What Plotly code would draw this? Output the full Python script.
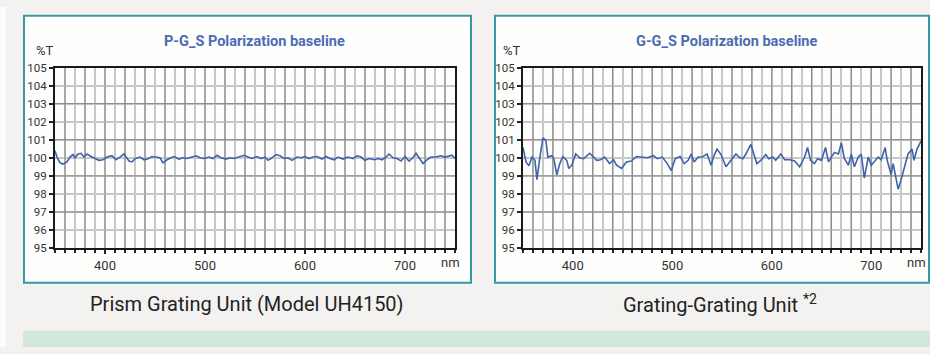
import plotly.graph_objects as go

# ---------------- data ----------------
pg_nm = [350, 352, 355, 358, 362, 365, 368, 370, 373, 376, 379, 382, 386, 390, 394, 398,
         402, 407, 411, 415, 419, 424, 427, 430, 435, 439, 443, 447, 450, 455, 458, 462,
         466, 469, 474, 478, 482, 487, 491, 495, 499, 504, 508, 512, 516, 521, 525, 529,
         534, 539, 543, 547, 552, 556, 560, 563, 566, 571, 575, 579, 583, 587, 592, 596,
         600, 604, 608, 612, 617, 621, 625, 629, 633, 638, 643, 648, 652, 656, 660, 664,
         669, 673, 677, 681, 684, 688, 692, 696, 700, 704, 708, 711, 714, 718, 722, 726,
         731, 736, 740, 743, 747, 750]
pg_t = [100.39, 100.04, 99.72, 99.65, 99.77, 100.04, 100.18, 100.00, 100.21, 100.25, 100.04,
        100.21, 100.07, 99.95, 99.86, 99.89, 100.04, 100.12, 99.89, 100.04, 100.21, 99.82,
        99.77, 99.95, 100.04, 99.89, 99.95, 100.07, 100.04, 100.00, 99.72, 99.89, 100.00,
        100.07, 99.93, 100.00, 99.96, 100.04, 100.11, 100.00, 99.96, 100.04, 99.96, 100.14,
        100.00, 99.93, 100.00, 99.96, 100.04, 100.14, 100.04, 99.96, 100.07, 99.96, 100.04,
        99.86, 99.96, 100.18, 100.11, 99.96, 100.00, 99.86, 100.04, 100.00, 100.07, 99.96,
        100.04, 100.07, 99.93, 100.07, 99.96, 99.89, 100.04, 99.93, 100.04, 99.96, 100.11,
        100.04, 99.86, 99.96, 99.89, 99.96, 99.89, 100.04, 100.21, 100.00, 99.96, 99.82,
        100.07, 99.82, 100.00, 100.25, 100.00, 99.68, 99.89, 100.04, 100.04, 100.11, 100.04,
        100.07, 100.14, 99.96]

gg_nm = [350, 353, 356, 359, 362, 364, 367, 370, 373, 375, 379, 381, 384, 387, 390, 394,
         396, 399, 403, 407, 411, 417, 421, 424, 428, 432, 437, 441, 444, 449, 454, 459,
         464, 470, 475, 481, 485, 490, 495, 499, 503, 508, 512, 516, 519, 522, 526, 530,
         535, 539, 542, 545, 549, 554, 559, 564, 567, 571, 574, 579, 582, 585, 589, 594,
         597, 601, 604, 609, 613, 618, 623, 628, 633, 636, 639, 643, 646, 650, 654, 657,
         660, 663, 667, 670, 673, 677, 680, 683, 687, 690, 693, 697, 700, 704, 707, 710,
         714, 716, 720, 722, 724, 727, 730, 734, 737, 741, 743, 746, 749, 750]
gg_t = [100.57, 99.77, 99.56, 100.04, 99.86, 98.79, 100.04, 101.10, 100.96, 100.04, 100.12,
        99.95, 99.06, 99.68, 100.07, 99.86, 99.41, 99.59, 100.21, 100.00, 99.95, 100.25,
        100.04, 99.86, 99.89, 100.04, 99.68, 99.89, 99.59, 99.41, 99.77, 99.82, 100.07,
        100.04, 100.00, 100.12, 99.95, 100.04, 99.68, 99.29, 99.95, 100.07, 99.68, 99.86,
        100.21, 99.77, 100.04, 100.04, 100.21, 99.59, 100.12, 100.48, 100.18, 99.50, 99.86,
        100.21, 100.04, 99.95, 100.21, 100.74, 100.21, 99.68, 99.86, 100.18, 99.95, 100.04,
        99.86, 100.21, 99.89, 99.89, 99.82, 99.50, 100.04, 100.57, 99.86, 99.68, 99.95,
        99.86, 100.57, 99.77, 100.04, 100.30, 100.21, 100.83, 99.95, 99.59, 100.21, 99.50,
        100.04, 100.21, 98.88, 100.04, 99.59, 99.86, 100.04, 99.89, 100.57, 99.86, 99.06,
        99.68, 99.15, 98.26, 98.79, 99.68, 100.21, 100.48, 99.86, 100.48, 100.83, 100.92]

titles = ["P-G_S Polarization baseline", "G-G_S Polarization baseline"]
captions = ["Prism Grating Unit (Model UH4150)", "Grating-Grating Unit <sup>*2</sup>"]
y_ticks = [95, 96, 97, 98, 99, 100, 101, 102, 103, 104, 105]
x_ticks = [400, 500, 600, 700]
x_dark_grid = list(range(360, 750, 20))
y_dark_grid = [97, 99, 101, 103]

# ---------------- styling ----------------
W, H = 930, 354
FONT = "Roboto, Liberation Sans, sans-serif"
LINE_BLUE = "#3f62ad"
TITLE_BLUE = "#4a6cb3"
TEAL = "#3a98a6"
LIGHT_GRID = "#c8c8c8"
DARK_GRID = "#888888"
X_RANGE = [350, 750]
Y_RANGE = [95, 105]

def px(x):
    return x / W

def py(y):
    return 1 - y / H

panels = [
    dict(box=(24, 9, 471, 287), plot=(55, 63, 455, 251), title_x=255, cap_x=247, pct_x=45),
    dict(box=(495, 9, 929, 287), plot=(523, 63, 921, 251), title_x=726, cap_x=720, pct_x=512),
]

fig = go.Figure()
series = [(pg_nm, pg_t), (gg_nm, gg_t)]

shapes = []
annotations = []

def note(text, x, y, size, color, weight=None):
    f = dict(family=FONT, size=size, color=color)
    if weight:
        f["weight"] = weight
    annotations.append(dict(text=text, xref="paper", yref="paper", x=px(x), y=py(y),
                            xanchor="center", yanchor="middle", showarrow=False, font=f))

# background decorations
shapes.append(dict(type="rect", xref="paper", yref="paper", x0=0, x1=px(6), y0=0, y1=1,
                   fillcolor="#fbfbfa", line_width=0, layer="below"))
shapes.append(dict(type="rect", xref="paper", yref="paper", x0=px(23), x1=1, y0=0, y1=py(337),
                   fillcolor="#d3e7dd", line_width=0, layer="below"))

for i, (p, (xs, ys)) in enumerate(zip(panels, series)):
    n = "" if i == 0 else str(i + 1)
    xa, ya = "x" + n, "y" + n
    fig.add_trace(go.Scatter(x=xs, y=ys, mode="lines", xaxis=xa, yaxis=ya,
                             line=dict(color=LINE_BLUE, width=1.6), hoverinfo="skip",
                             showlegend=False))
    bx0, by0, bx1, by1 = p["box"]
    shapes.append(dict(type="rect", xref="paper", yref="paper",
                       x0=px(bx0), x1=px(bx1), y0=py(by1), y1=py(by0),
                       fillcolor="#fefefc", line=dict(color=TEAL, width=2), layer="below"))
    for v in x_dark_grid:
        shapes.append(dict(type="line", xref=xa, yref=ya, x0=v, x1=v,
                           y0=Y_RANGE[0], y1=Y_RANGE[1],
                           line=dict(color=DARK_GRID, width=1), layer="between"))
    for v in y_dark_grid:
        shapes.append(dict(type="line", xref=xa, yref=ya, x0=X_RANGE[0], x1=X_RANGE[1],
                           y0=v, y1=v,
                           line=dict(color=DARK_GRID, width=1), layer="between"))
    qx0, qy0, qx1, qy1 = p["plot"]
    axx = dict(domain=[px(qx0), px(qx1)], range=X_RANGE, anchor=ya,
               tickmode="array", tickvals=x_ticks, ticks="outside", ticklen=4,
               tickcolor="#222", tickwidth=1.5, showgrid=False, zeroline=False,
               showline=True, linecolor="#1a1a1a", linewidth=2, mirror=True,
               tickfont=dict(family=FONT, size=13, color="#333"),
               minor=dict(dtick=10, tick0=350, ticks="outside", ticklen=3, tickcolor="#222",
                          showgrid=True, gridcolor=LIGHT_GRID, gridwidth=2),
               fixedrange=True)
    axy = dict(domain=[py(qy1), py(qy0)], range=Y_RANGE, anchor=xa,
               tickmode="array", tickvals=y_ticks, ticks="outside", ticklen=4,
               tickcolor="#222", tickwidth=1.5, showgrid=True, gridcolor=LIGHT_GRID,
               gridwidth=2, zeroline=False, showline=True, linecolor="#1a1a1a",
               linewidth=2, mirror=True,
               tickfont=dict(family=FONT, size=11.5, color="#333"), fixedrange=True)
    fig.update_layout(**{"xaxis" + n: axx, "yaxis" + n: axy})

    note(titles[i], p["title_x"], 36, 14.5, TITLE_BLUE, weight=700)
    note(captions[i], p["cap_x"], 309, 20, "#222")
    note("%T", p["pct_x"], 45, 13, "#333")
    note("nm", qx1 - 5, 266, 13, "#333")

fig.update_layout(width=W, height=H, margin=dict(l=0, r=0, t=0, b=0),
                  paper_bgcolor="#f3f2f0", plot_bgcolor="rgba(0,0,0,0)",
                  shapes=shapes, annotations=annotations, showlegend=False,
                  hovermode=False)

fig.write_html("out.html", config={"displayModeBar": False},
               post_script="document.body.style.margin='0';document.body.style.overflow='hidden';")
